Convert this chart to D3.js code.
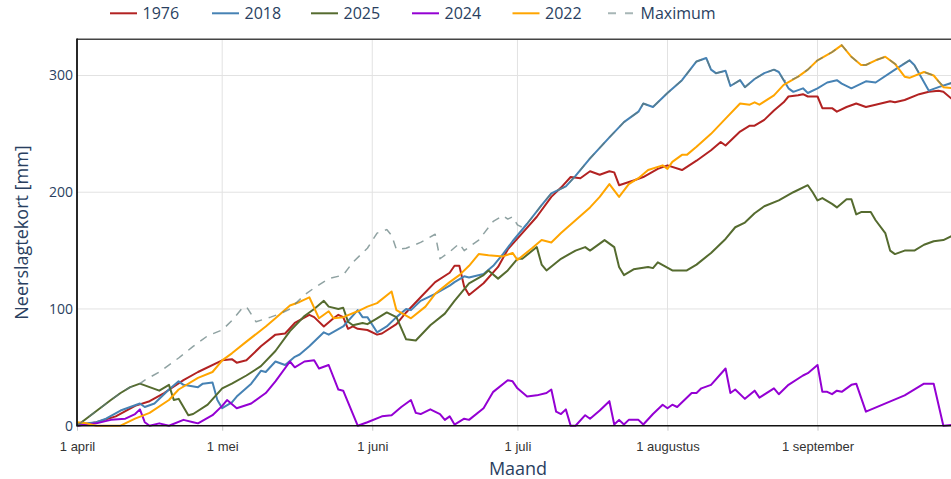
<!DOCTYPE html>
<html>
<head>
<meta charset="utf-8">
<script src="https://cdn.jsdelivr.net/npm/d3@7"></script>
<style>
  body { margin: 0; background: #fff; }
  svg { display: block; }
</style>
</head>
<body>
<svg id="chart"></svg>
<script>
// data: [days since 1 april, neerslagtekort in mm]
const s1976 = [[0,0],[4,3],[8,8],[12,17],[15,21],[18,28],[22,39],[25,46],[30,56],[32,57],[33,54],[35,56],[38,68],[41,78],[43,79],[45,88],[48,95],[49,93],[51,85],[53,92],[54,95],[55,93],[56,83],[57,85],[58,83],[60,82],[62,78],[63,79],[66,87],[68,97],[71,110],[74,123],[77,131],[78,137],[79,137],[80,119],[81,112],[84,122],[87,136],[89,151],[92,165],[95,179],[98,196],[100,204],[102,213],[104,212],[106,218],[108,215],[110,218],[111,217],[112,206],[115,210],[117,213],[120,220],[122,223],[125,219],[128,227],[131,236],[133,243],[134,240],[137,252],[139,257],[140,257],[142,262],[144,270],[146,277],[147,282],[149,283],[150,284],[151,282],[153,282],[154,272],[156,272],[157,269],[159,273],[161,276],[163,273],[165,275],[168,278],[169,277],[171,279],[174,284],[176,286],[178,287],[179,286],[181,279],[182,277]];

const s2018 = [[0,1],[4,3],[6,6],[9,13],[11,16],[13,19],[14,16],[16,19],[19,31],[21,38],[22,35],[25,33],[26,36],[28,37],[29,22],[30,15],[32,20],[33,25],[36,36],[38,47],[39,46],[41,55],[43,52],[45,59],[46,61],[48,68],[51,80],[52,78],[55,85],[58,99],[59,93],[60,93],[62,80],[64,85],[66,93],[68,100],[69,99],[71,107],[74,113],[77,120],[78,123],[80,128],[81,127],[84,130],[86,137],[88,147],[90,158],[93,173],[96,189],[98,199],[101,205],[103,214],[106,229],[110,247],[113,260],[116,269],[117,276],[119,273],[122,285],[125,296],[128,312],[130,315],[131,305],[132,302],[134,304],[135,291],[137,296],[138,290],[140,297],[142,302],[144,305],[145,303],[147,289],[148,286],[150,289],[151,285],[153,289],[155,294],[157,296],[158,293],[160,289],[163,295],[165,294],[169,305],[172,313],[173,309],[176,287],[178,290],[181,294],[182,296]];

const s2025 = [[0,0],[7,22],[9,28],[11,33],[13,36],[15,33],[17,30],[19,35],[20,22],[21,23],[23,9],[24,10],[27,18],[30,32],[32,36],[35,43],[38,51],[41,64],[44,81],[47,94],[49,100],[51,107],[52,102],[54,100],[55,101],[56,89],[57,86],[59,88],[60,87],[62,92],[64,97],[66,93],[68,74],[70,73],[73,86],[76,96],[78,107],[81,122],[84,129],[85,133],[87,126],[89,133],[91,143],[92,143],[95,153],[96,138],[97,133],[100,143],[103,150],[105,153],[106,150],[109,159],[111,153],[112,136],[113,129],[115,134],[118,136],[119,135],[120,140],[123,133],[126,133],[128,138],[131,148],[134,160],[136,170],[138,174],[140,182],[142,188],[145,193],[148,200],[151,206],[152,200],[153,193],[154,195],[156,190],[157,187],[159,194],[160,194],[161,181],[162,183],[164,183],[165,176],[167,165],[168,150],[169,147],[171,150],[173,150],[175,155],[177,158],[179,159],[181,163],[182,165]];

const s2024 = [[0,0],[4,2],[7,5],[10,6],[12,10],[13,14],[14,3],[15,0],[17,2],[19,0],[22,5],[24,3],[25,2],[28,9],[30,17],[31,22],[33,15],[36,19],[39,28],[41,38],[44,55],[45,50],[47,55],[49,56],[50,49],[52,52],[54,31],[55,30],[58,0],[60,3],[63,8],[65,9],[67,16],[69,22],[70,11],[71,10],[73,14],[75,10],[76,5],[77,8],[78,1],[80,6],[81,5],[84,15],[86,29],[89,39],[90,38],[91,32],[93,25],[95,26],[97,28],[98,31],[99,12],[100,10],[101,14],[102,0],[103,0],[105,9],[106,6],[108,13],[110,21],[111,1],[112,5],[113,1],[114,5],[116,5],[117,1],[119,10],[121,18],[122,15],[123,18],[124,16],[127,28],[128,28],[129,32],[131,35],[134,49],[135,28],[136,31],[138,23],[140,30],[141,24],[144,32],[145,27],[147,35],[150,43],[151,45],[153,52],[154,29],[155,29],[156,27],[157,30],[158,29],[160,35],[161,36],[163,12],[171,26],[175,36],[177,36],[179,0],[182,1]];

const s2022 = [[0,3],[2,2],[4,0],[9,0],[12,6],[15,11],[19,22],[21,31],[25,41],[28,46],[30,56],[32,62],[35,72],[39,85],[41,92],[44,103],[46,106],[47,108],[48,110],[50,92],[52,98],[53,92],[55,93],[58,98],[60,102],[62,105],[65,115],[66,99],[69,92],[72,102],[74,113],[77,123],[79,129],[81,137],[83,147],[85,146],[88,145],[90,148],[91,142],[94,152],[96,159],[98,157],[100,165],[103,176],[106,187],[108,196],[110,207],[112,196],[114,207],[116,212],[118,219],[121,223],[122,220],[123,226],[125,232],[126,232],[128,239],[131,250],[134,263],[137,276],[139,275],[140,277],[141,275],[144,283],[146,292],[149,299],[151,305],[153,313],[156,320],[158,326],[160,316],[162,309],[163,309],[165,313],[167,316],[169,310],[171,299],[172,298],[175,303],[177,300],[179,290],[181,289],[182,288]];

const sMax = [[0,0],[7,22],[9,28],[11,33],[13,36],[14,39],[17,46],[21,58],[24,68],[27,77],[30,82],[32,90],[34,100],[35,102],[37,89],[40,93],[42,96],[44,100],[47,112],[49,118],[52,126],[55,129],[57,140],[60,152],[62,165],[64,168],[65,163],[66,151],[68,152],[71,157],[74,164],[75,143],[77,149],[79,156],[80,150],[83,159],[86,175],[88,180],[89,177],[90,179],[91,172],[92,170],[93,173],[96,189],[98,199],[101,205],[103,214],[106,229],[110,247],[113,260],[116,269],[117,276],[119,273],[122,285],[125,296],[128,312],[130,315],[131,305],[132,302],[134,304],[135,291],[137,296],[138,290],[140,297],[142,302],[144,305],[145,303],[146,296],[147,295],[149,299],[151,305],[153,313],[156,320],[158,326],[160,316],[162,309],[163,309],[165,313],[167,316],[169,310],[170,308],[172,313],[173,309],[174,302],[175,303],[177,300],[178,295],[179,291],[181,294],[182,296]];

const seriesNames = ["1976", "2018", "2025", "2024", "2022", "Maximum"];
const seriesData = [s1976, s2018, s2025, s2024, s2022, sMax];
const monthLabels = ["1 april", "1 mei", "1 juni", "1 juli", "1 augustus", "1 september"];
const yTickValues = [0, 100, 200, 300];

// styles
const colors = ["#b22222", "#4682b4", "#556b2f", "#9400d3", "#ffa500", "#5f7a7a"];

// layout
const W = 951, H = 479;
const plotLeft = 77, plotTop = 39.3, plotBottom = 425.7;
const pxPerDay = 4.84;

const svg = d3.select("#chart").attr("width", W).attr("height", H);

const start = new Date(Date.UTC(2001, 3, 1));
const x = d3.scaleUtc()
    .domain([start, d3.utcDay.offset(start, 183)])
    .range([plotLeft, plotLeft + 183 * pxPerDay]);
const y = d3.scaleLinear()
    .domain([0, 331])
    .range([plotBottom, plotTop]);

const monthDates = monthLabels.map((d, i) => d3.utcMonth.offset(start, i));

// grid
svg.append("g").selectAll("line")
    .data(monthDates.slice(1))
  .enter().append("line")
    .attr("x1", d => x(d)).attr("x2", d => x(d))
    .attr("y1", plotTop).attr("y2", plotBottom)
    .attr("stroke", "#e2e2e2").attr("stroke-width", 1);
svg.append("g").selectAll("line")
    .data(yTickValues.slice(1))
  .enter().append("line")
    .attr("x1", plotLeft).attr("x2", W)
    .attr("y1", d => y(d)).attr("y2", d => y(d))
    .attr("stroke", "#e2e2e2").attr("stroke-width", 1);

// clip
svg.append("clipPath").attr("id", "plot")
  .append("rect")
    .attr("x", plotLeft).attr("y", plotTop)
    .attr("width", W - plotLeft).attr("height", plotBottom - plotTop + 1.5);

const line = d3.line()
    .x(d => x(d3.utcDay.offset(start, d[0])))
    .y(d => y(d[1]));

const lines = svg.append("g").attr("clip-path", "url(#plot)");
seriesData.forEach((s, i) => {
    const isMax = seriesNames[i] === "Maximum";
    lines.append("path")
        .datum(s)
        .attr("fill", "none")
        .attr("stroke", colors[i])
        .attr("stroke-width", isMax ? 1.5 : 2)
        .attr("stroke-opacity", isMax ? 0.7 : 1)
        .attr("stroke-dasharray", isMax ? "8,7" : null)
        .attr("stroke-linejoin", "round")
        .attr("d", line);
});

// x axis
const xAxis = svg.append("g")
    .attr("transform", `translate(0,${plotBottom})`)
    .call(d3.axisBottom(x)
        .tickValues(monthDates)
        .tickFormat((d, i) => monthLabels[i])
        .tickSize(5)
        .tickPadding(11));
xAxis.select(".domain").remove();
xAxis.selectAll(".tick line").attr("stroke", "#c8c8c8");
xAxis.selectAll("text")
    .attr("fill", "#333")
    .style("font-family", "'Liberation Sans', Arial, sans-serif")
    .style("font-size", "13px");

// y axis
const yAxis = svg.append("g")
    .attr("transform", `translate(${plotLeft},0)`)
    .call(d3.axisLeft(y)
        .tickValues(yTickValues)
        .tickSize(0)
        .tickPadding(4));
yAxis.select(".domain").remove();
yAxis.selectAll("text")
    .attr("fill", "#2a3f5f")
    .style("font-family", "'Open Sans', sans-serif")
    .style("font-size", "14px");

// frame
svg.append("line")
    .attr("x1", plotLeft).attr("x2", W).attr("y1", plotTop).attr("y2", plotTop)
    .attr("stroke", "#444").attr("stroke-width", 1.4);
svg.append("line")
    .attr("x1", plotLeft).attr("x2", W).attr("y1", plotBottom).attr("y2", plotBottom)
    .attr("stroke", "#111").attr("stroke-width", 1.6);
svg.append("line")
    .attr("x1", plotLeft).attr("x2", plotLeft).attr("y1", plotTop - 0.7).attr("y2", plotBottom + 0.8)
    .attr("stroke", "#111").attr("stroke-width", 1.8);

// axis titles
svg.append("text")
    .attr("x", 518).attr("y", 474.5)
    .attr("text-anchor", "middle")
    .attr("fill", "#2a3f5f")
    .style("font-family", "'Open Sans', sans-serif")
    .style("font-size", "18px")
    .text("Maand");
svg.append("text")
    .attr("transform", "translate(27.5,232.5) rotate(-90)")
    .attr("text-anchor", "middle")
    .attr("fill", "#2a3f5f")
    .style("font-family", "'Open Sans', sans-serif")
    .style("font-size", "18px")
    .text("Neerslagtekort [mm]");

// legend
const legendX = [110, 212, 311, 412, 512.5, 608];
const legend = svg.append("g");
seriesNames.forEach((name, i) => {
    const isMax = name === "Maximum";
    legend.append("line")
        .attr("x1", legendX[i]).attr("x2", legendX[i] + 27)
        .attr("y1", 13.3).attr("y2", 13.3)
        .attr("stroke", colors[i])
        .attr("stroke-width", 2)
        .attr("stroke-opacity", isMax ? 0.55 : 1)
        .attr("stroke-dasharray", isMax ? "8,9" : null);
    legend.append("text")
        .attr("x", legendX[i] + 32.5)
        .attr("y", 19)
        .attr("fill", "#2a3f5f")
        .style("font-family", "'Open Sans', sans-serif")
        .style("font-size", "16px")
        .text(name);
});
</script>
</body>
</html>
